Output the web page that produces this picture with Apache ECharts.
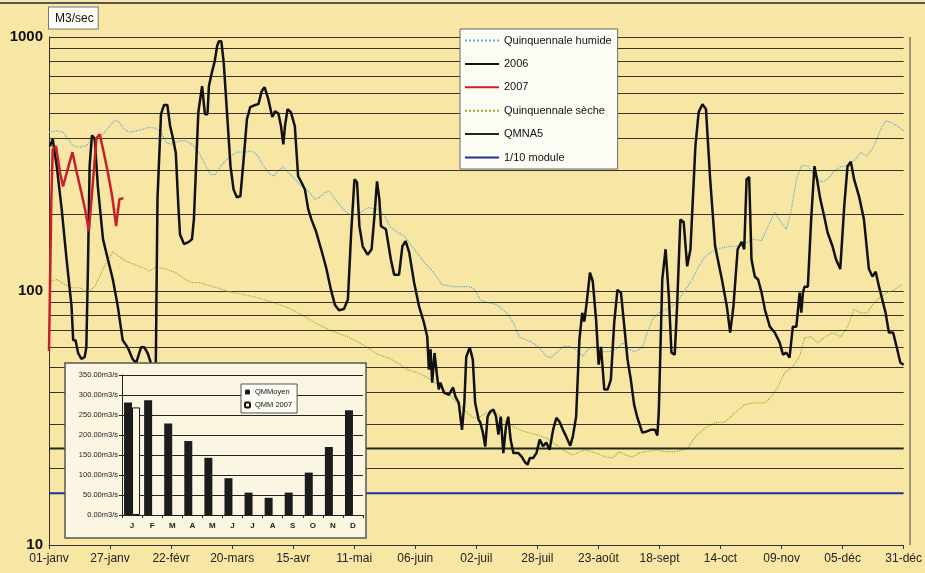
<!DOCTYPE html>
<html><head><meta charset="utf-8">
<script src="https://cdn.jsdelivr.net/npm/echarts@6/dist/echarts.min.js"></script>
<style>html,body{margin:0;padding:0;background:#f8e6a4}#c{width:925px;height:573px}</style>
</head><body><div id="c"></div><script>
// ---- data (day of year, m3/s) ----
const tickLabels = ['01-janv','27-janv','22-févr','20-mars','15-avr','11-mai','06-juin','02-juil','28-juil','23-août','18-sept','14-oct','09-nov','05-déc','31-déc'];
const minorGrid = [20,30,40,50,60,70,80,90,200,300,400,500,600,700,800,900];
const qmna5 = 24;
const module10 = 16;
const quinHumide = [[0,422],[3.3,427],[6,422],[8.2,396],[10.3,373],[13.1,368],[15.9,373],[18.1,396],[20.2,403],[22.3,408],[23.7,422],[25.8,446],[28.3,471],[30,461],[32.1,433],[34.2,422],[37.1,427],[39.9,433],[42.7,441],[45.5,437],[48.3,414],[49.8,385],[51.9,378],[54,385],[56.1,390],[58.2,390],[61,378],[63.8,352],[66.7,311],[68.8,288],[70.9,288],[73,308],[75.1,325],[77.3,340],[80,352],[82.9,352],[86.4,356],[88.5,345],[91.3,311],[93.4,293],[95.6,283],[97.7,297],[99.8,308],[101.9,293],[104.7,275],[107.5,259],[110.4,247],[113.2,230],[115.3,234],[117.4,244],[119.5,247],[120.9,236],[123,223],[125.9,207],[128.7,198],[132.9,204],[135.7,213],[140,210],[142.8,198],[145.6,178],[148.4,170],[151.2,165],[155.5,146],[159.7,130],[163.9,118],[167.4,106],[172.4,104],[179.4,104],[181.5,101],[183.6,92.5],[186.5,90],[190.7,88.4],[194.9,82],[197.8,75],[200.5,65.6],[204.8,63.4],[208.3,60.5],[211.8,55.3],[214,54.7],[216.1,57.2],[218.9,60.5],[221.7,60.5],[224.5,58.8],[227.4,55.3],[229.5,58.8],[232.3,60.5],[235.8,57.7],[238.6,57.7],[241.4,58.8],[244.3,62.5],[247.1,58.8],[249.9,57.7],[252.7,60],[254.8,68.6],[257,77.2],[259.7,82],[262.6,84.5],[265.4,87],[268.2,92.5],[271,101],[273.9,111],[276.7,125],[279.5,137],[283,144],[286.6,148],[290.1,150],[293.6,150],[297.1,155],[299.9,160],[303.5,158],[306.3,180],[309.1,204],[311.9,186],[314,175],[316.2,210],[318.3,275],[320.4,311],[323.2,311],[326,284],[328.8,268],[331.6,275],[334.5,297],[337.3,309],[340.1,311],[342.9,326],[345.7,351],[348.5,340],[351.4,373],[354.2,433],[356.3,467],[358.5,462],[361.3,446],[364,427]];
const y2006 = [[0.4,371],[1.6,396],[3.3,310],[5.4,210],[7.5,133],[9.6,87],[10.3,64],[11.3,64],[12.4,57],[13.8,54],[15.2,55],[15.9,60],[16.6,125],[17.3,310],[18.3,410],[19.5,396],[20.8,258],[23,160],[25.1,133],[27.2,111],[29.3,87],[31.4,64],[33.5,60],[35.6,54],[37.1,52],[39.2,60],[40.6,60],[42,57],[43.4,52],[44.4,47],[45.5,52],[46.2,230],[47.7,497],[49,540],[50.4,540],[51.6,445],[52.6,407],[54,350],[55.1,215],[55.8,167],[57.5,153],[59.6,156],[60.9,160],[61.7,191],[63.6,506],[65.2,640],[66.4,497],[67.5,497],[68.1,640],[69.2,714],[70.6,805],[71.6,920],[72.3,962],[73.4,962],[74.4,797],[75.8,506],[77.3,310],[78.6,251],[80,234],[81.5,236],[82.9,330],[84.3,475],[85.7,530],[87.8,540],[89.2,544],[90.6,612],[91.8,635],[93.4,569],[95.1,484],[96.3,510],[97.7,500],[98.8,446],[99.8,378],[100.5,446],[101.6,520],[103,506],[104.7,446],[106.1,283],[107.5,268],[109,251],[110.4,210],[111.8,191],[113.7,172],[115.9,146],[118,124],[120.1,101],[121.8,88],[123.5,84],[125.6,85],[127.3,92.5],[128.7,170],[130.1,275],[131.2,268],[132.2,180],[133.6,150],[135.7,139],[137.4,146],[138.6,197],[139.7,270],[140.7,230],[141.4,180],[143.5,175],[145.6,133],[147,116],[149.1,116],[150.5,150],[151.9,157],[153.4,142],[155.5,108],[157.6,87],[159.7,75],[161.1,66],[161.8,49],[162.5,59],[163.2,43.6],[164.2,57],[165.3,46],[166,41],[166.7,43.6],[168.2,39.8],[170.3,39],[172.1,41.7],[173.1,38.4],[174.5,36.3],[175.9,28.4],[176.9,36.3],[177.7,55],[179.2,60],[180.5,53.7],[181.5,36.3],[183,31.1],[183.6,30.5],[184.8,27.7],[185.8,24.4],[186.8,32],[187.9,33.5],[189.3,34.1],[190.4,32],[191.4,27.2],[192.4,32],[193.5,23],[194.6,29.2],[195.6,32],[196.6,26],[197.8,23],[199.9,23],[201.3,22.3],[202.7,21.2],[203.8,20.7],[204.8,22],[206.2,22],[207.6,23],[209,26],[210.4,24.5],[211.8,25.3],[213.2,23.7],[214.7,28.4],[216.1,31.7],[217.5,30.5],[218.9,28.4],[220.3,26.7],[222,24.6],[223.1,26.7],[224.5,32],[225.9,64.4],[227.1,82],[228,75.7],[229,90],[230.4,118],[231.6,109],[233,77.2],[234.1,51.3],[235.1,60.3],[236.5,40.9],[237.9,40.9],[239.3,44.8],[240.7,74.5],[242.1,101],[243.6,98.5],[244.9,74.5],[246.4,53.7],[247.8,44.8],[249.2,35.7],[250.6,31.7],[252.7,27.7],[254.1,27.9],[256.2,28.4],[258.1,28.4],[259.1,27],[259.7,33.2],[261.2,111],[262.6,146],[264,95],[265.1,57.2],[266.5,56.2],[267.5,87],[268.9,191],[270.3,187],[271.8,125],[273.2,146],[275.3,371],[276.7,506],[278.3,544],[279.8,520],[281.6,275],[283.7,150],[286.6,111],[288.7,87],[290.1,68.6],[291.5,87],[293.3,146],[295,156],[296.1,146],[297.1,275],[298.2,281],[299.2,133],[300.6,114],[302,111],[303.5,98.5],[304.9,84.5],[307,72.4],[309.1,68.6],[311.2,62.6],[312.6,56.2],[314,57.2],[315.4,54.7],[316.8,72.4],[318.3,72.4],[319.7,98.5],[320.4,82.2],[321.1,98.5],[321.8,104],[323.2,104],[324.6,191],[326,310],[327.1,275],[328.5,230],[330.2,196],[331.6,170],[333.7,150],[335.2,133],[337,122],[338.7,216],[340.1,310],[341.5,323],[342.9,275],[345,236],[347.1,191],[349.2,122],[350.7,114],[352.1,119],[353.5,104],[354.9,92.5],[356.3,82.2],[357.7,68.6],[359.5,68.6],[361,60.3],[362.6,52.2],[364,51.3]];
const y2007 = [[0,58],[1,230],[1.6,362],[3,371],[4.7,292],[6,258],[7.7,296],[10,352],[11.7,296],[13.8,244],[15.6,204],[17,172],[18.7,268],[20.2,400],[21.6,414],[23.3,352],[25.1,292],[26.9,236],[28.6,180],[30,230],[31.7,232]];
const quinSeche = [[0,109],[3.3,111],[6,107],[9.6,103],[13.1,103],[16.6,98.5],[19.5,104],[23,122],[27.2,143],[30,136],[32.9,131],[35.6,128],[38.5,125],[42.7,120],[45.5,124],[49.8,122],[54,118],[58.2,111],[61,108],[63.8,108],[70.2,104],[76.5,99.5],[82.9,96.8],[89.2,94],[95.6,90],[101.9,86],[108.2,80],[114.6,73.8],[120.9,69.3],[127.3,66],[131.5,63],[135.7,59.8],[140,56.2],[144.2,54.7],[148.4,52.2],[152.6,49],[156.9,47.7],[160.4,46],[162.5,44.8],[166.7,42],[169.6,39.7],[173.8,36.3],[178,33.2],[180.8,31.7],[183.6,32],[186.5,33.2],[190.7,33.2],[194.2,30.5],[197.8,29.2],[200.5,28.4],[204.1,27.7],[207.6,27.2],[211.8,26.4],[214.7,25.3],[217.5,24.3],[220.3,23.3],[223.1,22.6],[225.9,23.3],[228.8,23.7],[233,23],[237.2,22.2],[240,22],[242.8,23.3],[245.7,22.6],[248.5,22.2],[251.3,23],[254.1,23.3],[258.4,23.7],[262.6,23.3],[266.8,23.3],[270.3,23.7],[272.4,24.3],[275.3,26.7],[279.5,28.9],[283.7,30.3],[288,30.5],[292.2,33.2],[296.4,35.7],[300.6,36.3],[304.9,36.3],[307.7,38.4],[310.5,42],[313.3,47.6],[316.8,50.5],[319.7,55.3],[321.8,65.5],[324.6,66],[327.4,62.5],[330.2,65.5],[333.7,68.6],[337.3,66],[340.1,72.4],[342.9,84.5],[345.7,82],[348.5,82],[351.4,90],[354.2,95],[357,98.5],[359.8,101],[363.3,106]];
// inset monthly means
const months = ['J','F','M','A','M','J','J','A','S','O','N','D'];
const qmMoyen = [281,287,229,185,143,92,56,43,56,106,170,262];
const qmm2007 = [269,null,null,null,null,null,null,null,null,null,null,null];

const FONT = "'Liberation Sans Narrow','Liberation Sans',Arial,sans-serif";
const chart = echarts.init(document.getElementById('c'), null, {renderer:'canvas'});
const flat = v => [[0, v], [364, v]];
const option = {
  animation: false,
  backgroundColor: '#f8e6a4',
  textStyle: {fontFamily: FONT},
  graphic: [
    {type:'line', shape:{x1:0,y1:3,x2:925,y2:3}, style:{stroke:'#555',lineWidth:2}, z:0},
    {type:'line', shape:{x1:910,y1:37,x2:910,y2:545}, style:{stroke:'#444',lineWidth:1}, z:3},
    {type:'rect', shape:{x:65,y:363,width:301,height:175}, style:{fill:'#fbf6e2',stroke:'#555',lineWidth:1.5}, z:10}
  ],
  legend: [
    {data:['Quinquennale humide','2006','2007','Quinquennale sèche','QMNA5','1/10 module'],
     orient:'vertical', left:460, top:29, itemWidth:34, itemHeight:10, itemGap:12.4,
     itemStyle:{opacity:0},
     backgroundColor:'#fdfcf4', borderColor:'#666', borderWidth:1, padding:[6,6,6,4],
     textStyle:{fontSize:11, color:'#111', fontFamily:FONT}, z:12},
    {data:['QMMoyen','QMM 2007'], orient:'vertical', left:241, top:384, itemWidth:5, itemHeight:5, itemGap:5,
     backgroundColor:'#fdfcf4', borderColor:'#555', borderWidth:1, padding:[4,5,4,3],
     textStyle:{fontSize:7.5, color:'#111', fontFamily:FONT}, z:25}
  ],
  grid: [
    {left:49, right:15, top:37, bottom:28, containLabel:false},
    {left:122, top:375, width:241, height:140, containLabel:false, z:20}
  ],
  xAxis: [
    {type:'value', gridIndex:0, min:0, max:364, interval:26,
     axisLine:{show:true, lineStyle:{color:'#333', width:1}},
     axisTick:{show:true, length:4, lineStyle:{color:'#333'}},
     axisLabel:{fontSize:12, color:'#222', margin:8, fontFamily:FONT, showMaxLabel:true,
       formatter: v => tickLabels[Math.round(v/26)] || ''},
     splitLine:{show:false}},
    {type:'category', gridIndex:1, data:months, z:20,
     axisLine:{show:true, lineStyle:{color:'#222'}},
     axisTick:{show:true, length:3, lineStyle:{color:'#222'}},
     axisLabel:{fontSize:8, fontWeight:'bold', color:'#222', margin:7}}
  ],
  yAxis: [
    {type:'log', gridIndex:0, logBase:10, min:10, max:1000,
     name:'M3/sec', nameLocation:'end', nameGap:6,
     nameTextStyle:{align:'left', fontSize:12, color:'#111', backgroundColor:'#fdfcf4', borderColor:'#777', borderWidth:1, padding:[5,4,4,6], fontFamily:FONT},
     axisLine:{show:true, lineStyle:{color:'#333'}},
     axisTick:{show:false},
     axisLabel:{fontSize:15, fontWeight:'bold', color:'#111', margin:6, fontFamily:"'Liberation Sans',Arial,sans-serif",
       formatter: v => String(Math.round(v))},
     splitLine:{show:true, lineStyle:{color:'#3b3425', width:1.2}}},
    {type:'value', gridIndex:1, min:0, max:350, interval:50, z:20,
     axisLine:{show:true, lineStyle:{color:'#222'}},
     axisTick:{show:true, length:3, lineStyle:{color:'#222'}},
     axisLabel:{fontSize:7.5, color:'#222', margin:4, formatter: v => v.toFixed(2)+'m3/s'},
     splitLine:{show:true, lineStyle:{color:'#222', width:1}}}
  ],
  series: [
    {name:'_grid', type:'line', data:[], xAxisIndex:0, yAxisIndex:0, z:1,
     markLine:{silent:true, symbol:['none','none'], label:{show:false},
       lineStyle:{color:'#3b3425', width:1.2, type:'solid'},
       emphasis:{disabled:true},
       data: minorGrid.map(v => ({yAxis:v}))}},
    {name:'Quinquennale humide', type:'line', data:quinHumide, symbol:'none', z:3,
     lineStyle:{color:'#5aaed0', width:1.2, type:'dotted'}, itemStyle:{color:'#5aaed0'}},
    {name:'2006', type:'line', data:y2006, symbol:'none', z:5,
     lineStyle:{color:'#111', width:2.5}, itemStyle:{color:'#111'}},
    {name:'2007', type:'line', data:y2007, symbol:'none', z:6,
     lineStyle:{color:'#c8202a', width:2.5}, itemStyle:{color:'#c8202a'}},
    {name:'Quinquennale sèche', type:'line', data:quinSeche, symbol:'none', z:3,
     lineStyle:{color:'#8fb52a', width:1.2, type:'dotted'}, itemStyle:{color:'#8fb52a'}},
    {name:'QMNA5', type:'line', data:flat(qmna5), symbol:'none', z:4,
     lineStyle:{color:'#1d2a18', width:2}, itemStyle:{color:'#1d2a18'}},
    {name:'1/10 module', type:'line', data:flat(module10), symbol:'none', z:4,
     lineStyle:{color:'#1f2f9a', width:2}, itemStyle:{color:'#1f2f9a'}},
    {name:'QMMoyen', type:'bar', xAxisIndex:1, yAxisIndex:1, data:qmMoyen, barWidth:8, barGap:'0%', z:21,
     itemStyle:{color:'#1c1c1c'}},
    {name:'QMM 2007', type:'bar', xAxisIndex:1, yAxisIndex:1, data:qmm2007, barWidth:8, barGap:'0%', z:21,
     itemStyle:{color:'#fbf6e2', borderColor:'#111', borderWidth:1}}
  ]
};
chart.setOption(option);
</script></body></html>
